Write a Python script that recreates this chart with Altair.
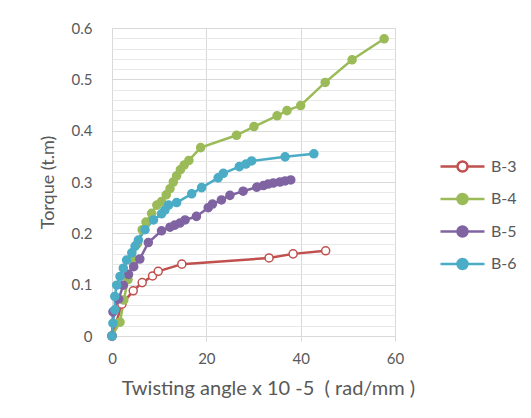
import altair as alt
import pandas as pd

series = ["B-3", "B-4", "B-5", "B-6"]
line_colors = ["#C0504D", "#9BBB59", "#8064A2", "#4BACC6"]
fill_colors = ["#FFFFFF", "#9BBB59", "#8064A2", "#4BACC6"]

b3_x = [0, 2.1, 4.5, 6.4, 8.6, 9.8, 14.8, 33.3, 38.4, 45.3]
b3_y = [0, 0.062, 0.088, 0.104, 0.117, 0.126, 0.140, 0.152, 0.160, 0.166]

b4_x = [0, 1.7, 2.5, 3.4, 4.4, 5.4, 6.4, 7.2, 8.4, 9.5, 10.5, 11.5, 12.3, 13.0, 13.7,
        14.5, 15.3, 16.3, 18.8, 26.4, 30.1, 35.0, 37.1, 40.0, 45.2, 50.9, 57.7]
b4_y = [0, 0.027, 0.07, 0.11, 0.15, 0.18, 0.207, 0.222, 0.239, 0.255, 0.262, 0.275, 0.287,
        0.300, 0.312, 0.324, 0.333, 0.342, 0.367, 0.391, 0.408, 0.429, 0.439, 0.449,
        0.494, 0.538, 0.579]

b5_x = [0, 0.2, 1.4, 2.4, 3.5, 4.6, 5.9, 7.7, 10.5, 12.3, 13.3, 14.4, 15.5, 17.9, 20.4,
        21.3, 23.2, 25.0, 27.8, 30.7, 32.1, 33.1, 34.2, 35.6, 36.7, 37.9]
b5_y = [0, 0.047, 0.072, 0.099, 0.120, 0.135, 0.150, 0.182, 0.205, 0.212, 0.216, 0.220,
        0.226, 0.233, 0.250, 0.257, 0.265, 0.274, 0.282, 0.290, 0.293, 0.296, 0.298,
        0.300, 0.302, 0.304]

b6_x = [0, 0.2, 0.6, 0.6, 1.0, 1.7, 2.4, 3.1, 4.2, 4.9, 5.6, 7.0, 8.8, 10.5, 11.2, 12.0,
        13.7, 16.9, 19.0, 22.5, 23.6, 27.0, 28.4, 29.6, 36.7, 42.8]
b6_y = [0, 0.025, 0.051, 0.077, 0.099, 0.116, 0.132, 0.148, 0.162, 0.175, 0.187, 0.207,
        0.226, 0.238, 0.245, 0.255, 0.260, 0.277, 0.289, 0.308, 0.317, 0.330, 0.335,
        0.341, 0.349, 0.355]

x_ticks = [0, 20, 40, 60]
y_ticks = [round(i * 0.02, 2) for i in range(31)]

rows = []
for name, xs, ys in [("B-3", b3_x, b3_y), ("B-4", b4_x, b4_y),
                     ("B-5", b5_x, b5_y), ("B-6", b6_x, b6_y)]:
    for i, (xv, yv) in enumerate(zip(xs, ys)):
        rows.append({"series": name, "angle": xv, "torque": yv, "idx": i})
df = pd.DataFrame(rows)

FONT = "Lato"
GREY = "#595959"

x_enc = alt.X(
    "angle:Q",
    scale=alt.Scale(domain=[0, 60], nice=False),
    axis=alt.Axis(
        values=x_ticks, grid=True, gridColor="#D9D9D9", domainColor="#D9D9D9",
        tickColor="#D9D9D9", tickSize=5, labelPadding=10, labelFont=FONT,
        labelFontSize=15, labelColor=GREY, labelFlush=False,
        title="Twisting angle x 10 -5 \u00a0( rad/mm )", titleFont=FONT,
        titleFontSize=20, titleFontWeight="normal", titleColor=GREY,
        titleX=156, titleY=52, titleBaseline="middle",
    ),
)
y_enc = alt.Y(
    "torque:Q",
    scale=alt.Scale(domain=[0, 0.6], nice=False),
    axis=alt.Axis(
        values=y_ticks, grid=True,
        gridColor={"condition": {"test": "round(datum.value*100) % 10 == 0", "value": "#D9D9D9"},
                   "value": "#E8E8E8"},
        domain=False, ticks=False, tickSize=0, labelPadding=20, labelFlush=False,
        labelExpr="round(datum.value*100) % 10 == 0 ? (datum.value == 0 ? '0' : format(datum.value, '.1f')) : ''",
        labelOverlap=False, labelBound=False,
        labelFont=FONT, labelFontSize=15, labelColor=GREY,
        title="Torque (t.m)", titleFont=FONT, titleFontSize=18,
        titleFontWeight="normal", titleColor=GREY,
        titleX=-64, titleY=154, titleBaseline="middle", titleAngle=270,
    ),
)

r = 0.4545
sym = (f"M-2,0L-{r},0M{r},0L2,0M{r},0A{r},{r},0,1,1,-{r},0A{r},{r},0,1,1,{r},0Z")
legend = alt.Legend(
    title=None, orient="none", legendX=338, legendY=126, padding=0,
    symbolType=sym, symbolSize=484, symbolStrokeWidth=2.5, rowPadding=9.5,
    labelOffset=16, labelFont=FONT, labelFontSize=16, labelColor=GREY,
    labelBaseline="middle",
)
stroke_enc = alt.Stroke("series:N", scale=alt.Scale(domain=series, range=line_colors), legend=legend)
fill_enc = alt.Fill("series:N", scale=alt.Scale(domain=series, range=fill_colors), legend=legend)

lines = alt.Chart(df).mark_line(strokeWidth=2.5).encode(
    x=x_enc, y=y_enc, stroke=stroke_enc, detail="series:N", order="idx:Q"
)
points = alt.Chart(df).mark_point(filled=True, size=65, strokeWidth=1.5, opacity=1).encode(
    x=x_enc, y=y_enc, stroke=stroke_enc, fill=fill_enc
)

chart = alt.layer(lines, points).properties(
    width=283, height=308,
    autosize=alt.AutoSizeParams(type="none"),
    padding={"left": 104, "top": 20, "right": 128, "bottom": 70},
).configure_view(stroke=None).configure(background="white")

chart.save("out.html", embed_options={"renderer": "svg", "actions": False})
